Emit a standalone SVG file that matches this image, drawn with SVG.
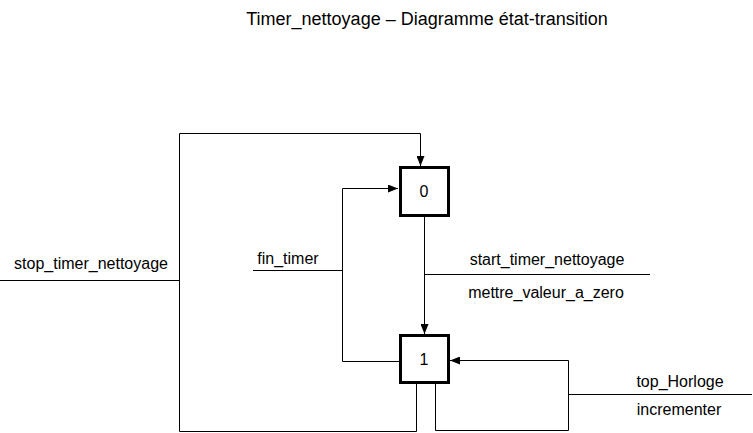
<svg xmlns="http://www.w3.org/2000/svg" width="753" height="433" viewBox="0 0 753 433">
<style>
.t{font-family:"Liberation Sans",Arial,sans-serif;font-size:16px;fill:#000}
.h{font-size:18px}
.c{text-anchor:middle}
.l{fill:none;stroke:#000;stroke-width:1}
.s{fill:#fff;stroke:#000;stroke-width:3}
</style>
<defs>
<marker id="a" viewBox="0 0 10 8" refX="10" refY="4" markerWidth="10" markerHeight="8" markerUnits="userSpaceOnUse" orient="auto">
<path d="M0,0 L10,4 L0,8 Z" fill="#000"/>
</marker>
</defs>
<rect width="753" height="433" fill="#fff"/>
<text class="t h c" x="427" y="25">Timer_nettoyage – Diagramme état-transition</text>
<g id="connectors">
<path class="l" d="M416.5,383 V431.5 H179.5 V133.5 H420.5 V166" marker-end="url(#a)"/>
<path class="l" d="M0,280.5 H179.5"/>
<path class="l" d="M399,361.5 H342.5 V188.5 H398" marker-end="url(#a)"/>
<path class="l" d="M253,270.5 H342.5"/>
<path class="l" d="M424.5,216 V334" marker-end="url(#a)"/>
<path class="l" d="M424.5,274.5 H650"/>
<path class="l" d="M435.5,383 V430.5 H568.5 V360.5 H450" marker-end="url(#a)"/>
<path class="l" d="M568.5,394.5 H752"/>
</g>
<g id="labels">
<text class="t c" x="91" y="269">stop_timer_nettoyage</text>
<text class="t c" x="288" y="264">fin_timer</text>
<text class="t c" x="547" y="265">start_timer_nettoyage</text>
<text class="t c" x="546" y="298">mettre_valeur_a_zero</text>
<text class="t c" x="680" y="387">top_Horloge</text>
<text class="t c" x="679" y="415">incrementer</text>
</g>
<g id="state0">
<rect class="s" x="400.5" y="167.5" width="48" height="48"/>
<text class="t c" x="424" y="197">0</text>
</g>
<g id="state1">
<rect class="s" x="400.5" y="335.5" width="48" height="47"/>
<text class="t c" x="424" y="365">1</text>
</g>
</svg>
